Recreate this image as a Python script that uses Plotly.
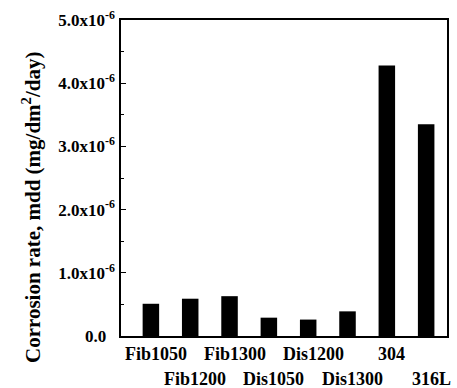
import plotly.graph_objects as go

categories = ["Fib1050", "Fib1200", "Fib1300", "Dis1050", "Dis1200", "Dis1300", "304", "316L"]
values = [0.51e-6, 0.59e-6, 0.63e-6, 0.29e-6, 0.26e-6, 0.39e-6, 4.28e-6, 3.35e-6]
ytick_vals = [0, 1e-6, 2e-6, 3e-6, 4e-6, 5e-6]
ytick_text = ["0.0&nbsp;&nbsp;", "1.0x10<sup>-6</sup>", "2.0x10<sup>-6</sup>", "3.0x10<sup>-6</sup>",
              "4.0x10<sup>-6</sup>", "5.0x10<sup>-6</sup>"]
ytitle = "Corrosion rate, mdd (mg/dm<sup>2</sup>/day)"

FONT = "Liberation Serif"
xpos = list(range(len(categories)))

fig = go.Figure()
fig.add_trace(go.Bar(x=xpos, y=values, width=0.42, marker=dict(color="black", line=dict(width=0))))

for i, lab in enumerate(categories):
    lower = (i % 2 == 1)
    fig.add_annotation(x=i, y=0, xref="x", yref="paper", text=lab, showarrow=False,
                       xanchor="center", yanchor="top", xshift=5,
                       yshift=-31 if lower else -6,
                       font=dict(family=FONT, size=18, color="black", weight="bold"))

fig.add_annotation(x=0, xref="paper", xanchor="center", xshift=-90, y=0.405, yref="paper",
                   yanchor="middle", text=ytitle, textangle=-90, showarrow=False,
                   font=dict(family=FONT, size=21, color="black", weight="bold"))

fig.update_layout(
    width=457, height=388,
    margin=dict(l=121, r=8, t=15, b=52),
    plot_bgcolor="white", paper_bgcolor="white",
    showlegend=False,
    xaxis=dict(range=[-0.76, 7.53], showticklabels=False, ticks="", showgrid=False,
               zeroline=False, showline=True, linecolor="black", linewidth=1.5, mirror=True),
    yaxis=dict(range=[0, 5.0001e-6], tickvals=ytick_vals, ticktext=ytick_text, ticks="inside",
               ticklen=5, tickwidth=1.2, tickcolor="black", showgrid=False, zeroline=False,
               showline=True, linecolor="black", linewidth=1.5, mirror=True,
               ticklabelstandoff=1,
               tickfont=dict(family=FONT, size=17, color="black", weight="bold"),
               minor=dict(dtick=0.5e-6, ticks="inside", ticklen=3, tickcolor="black", showgrid=False)),
)

fig.write_html("out.html", config={"displayModeBar": False},
               post_script="document.body.style.margin='0';document.body.style.overflow='hidden';")
